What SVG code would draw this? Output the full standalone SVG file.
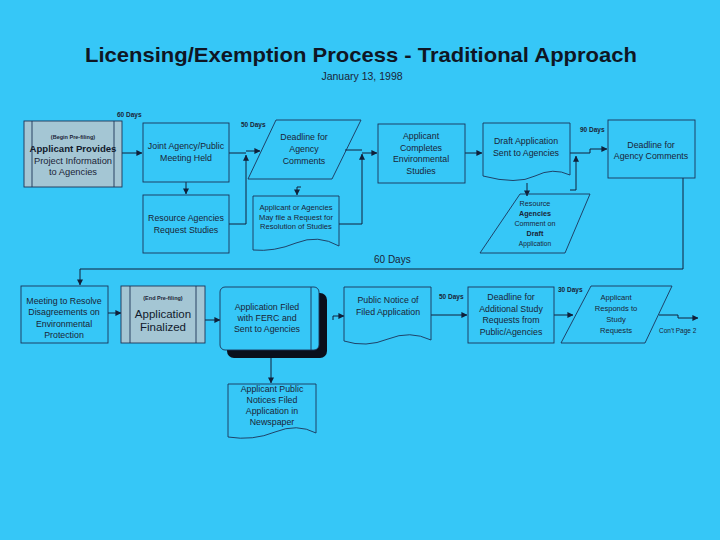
<svg xmlns="http://www.w3.org/2000/svg" width="720" height="540" viewBox="0 0 720 540">
<defs>
<marker id="ah" viewBox="0 0 8 8" refX="7.5" refY="4" markerWidth="6" markerHeight="6" orient="auto" markerUnits="userSpaceOnUse">
<path d="M0,0 L8,4 L0,8 Z" fill="#10203a"/>
</marker>
<style>
.bx{fill:none;stroke:#1c3358;stroke-width:0.9}
.pp{fill:#a4c6d4;stroke:#1c3358;stroke-width:0.9}
.ln{fill:none;stroke:#10203a;stroke-width:1}
.t{font-family:"Liberation Sans",Arial,sans-serif;font-size:8.8px;fill:#1a2436;text-anchor:middle}
.s{font-family:"Liberation Sans",Arial,sans-serif;font-size:7.6px;fill:#1a2436;text-anchor:middle}
.lb{font-family:"Liberation Sans",Arial,sans-serif;font-size:6.5px;font-weight:bold;fill:#1a2436}
.b{font-family:"Liberation Sans",Arial,sans-serif;font-size:9.6px;fill:#111a2c;text-anchor:middle;font-weight:bold}
</style>
</defs>
<rect x="0" y="0" width="720" height="540" fill="#36c7f7"/>
<text x="361" y="62" font-family="Liberation Sans,Arial,sans-serif" font-size="21" font-weight="bold" fill="#0f1624" text-anchor="middle" textLength="552" lengthAdjust="spacingAndGlyphs">Licensing/Exemption Process - Traditional Approach</text>
<text x="362" y="80" font-family="Liberation Sans,Arial,sans-serif" font-size="10.5" fill="#1a2436" text-anchor="middle">January 13, 1998</text>

<g id="connectors">
<path class="ln" d="M122,153 H142" marker-end="url(#ah)"/>
<path class="ln" d="M186,182 V194" marker-end="url(#ah)"/>
<path class="ln" d="M229,153 H246 M229,224 H246 V155" marker-end="url(#ah)"/>
<path class="ln" d="M246,151 H260" marker-end="url(#ah)"/>
<path class="ln" d="M301,187 H297 V195" marker-end="url(#ah)"/>
<path class="ln" d="M339,224 H362 V154" marker-end="url(#ah)"/>
<path class="ln" d="M345,150 H362 M362,153 H377" marker-end="url(#ah)"/>
<path class="ln" d="M465,153 H482" marker-end="url(#ah)"/>
<path class="ln" d="M527,183 V196" marker-end="url(#ah)"/>
<path class="ln" d="M570,190 H576 V156" marker-end="url(#ah)"/>
<path class="ln" d="M570,153 H590 V149 H607" marker-end="url(#ah)"/>
<path class="ln" d="M683,178 V269 H80 V285" marker-end="url(#ah)"/>
<path class="ln" d="M108,313 H121" marker-end="url(#ah)"/>
<path class="ln" d="M205,320 H220" marker-end="url(#ah)"/>
<path class="ln" d="M271,358 V383" marker-end="url(#ah)"/>
<path class="ln" d="M333,320 V316 H344" marker-end="url(#ah)"/>
<path class="ln" d="M431,315 H467" marker-end="url(#ah)"/>
<path class="ln" d="M554,315 H573" marker-end="url(#ah)"/>
<path class="ln" d="M659,315 H678 V318 H698" marker-end="url(#ah)"/>
<text class="lb" x="117" y="117">60 Days</text>
<text class="lb" x="241" y="127">50 Days</text>
<text class="lb" x="580" y="132">90 Days</text>
<text x="374" y="263" font-family="Liberation Sans,Arial,sans-serif" font-size="10" fill="#1a2436">60 Days</text>
<text class="lb" x="439" y="299">50 Days</text>
<text class="lb" x="558" y="292">30 Days</text>
<text class="lb" x="659" y="333" style="font-weight:normal">Con't Page 2</text>
</g>

<g id="n-applicant-provides">
<rect class="pp" x="24" y="121" width="98" height="66"/>
<line class="bx" x1="32" y1="121" x2="32" y2="187"/>
<line class="bx" x1="114" y1="121" x2="114" y2="187"/>
<text x="73" y="139" font-family="Liberation Sans,Arial,sans-serif" font-size="5.5" font-weight="bold" fill="#1a2436" text-anchor="middle">(Begin Pre-filing)</text>
<text class="b" x="73" y="152">Applicant Provides</text>
<text class="t" x="73" y="163.5" style="font-size:9.3px">Project Information</text>
<text class="t" x="73" y="175" style="font-size:9.3px">to Agencies</text>
</g>

<g id="n-joint-meeting">
<rect class="bx" x="143" y="123" width="86" height="59"/>
<text class="t" x="186" y="149">Joint Agency/Public</text>
<text class="t" x="186" y="161">Meeting Held</text>
</g>

<g id="n-request-studies">
<rect class="bx" x="143" y="195" width="86" height="58"/>
<text class="t" x="186" y="221">Resource Agencies</text>
<text class="t" x="186" y="233">Request Studies</text>
</g>

<g id="n-deadline-1">
<polygon class="bx" points="276,120 361,120 332,179 248,179"/>
<text class="t" x="304" y="140">Deadline for</text>
<text class="t" x="304" y="152">Agency</text>
<text class="t" x="304" y="164">Comments</text>
</g>

<g id="n-resolution">
<path class="bx" d="M253,196 H339 V246 Q318,234 296,243 T253,250 Z"/>
<text class="s" x="296" y="210">Applicant or Agencies</text>
<text class="s" x="296" y="219.5">May file a Request for</text>
<text class="s" x="296" y="229">Resolution of Studies</text>
</g>

<g id="n-env-studies">
<rect class="bx" x="378" y="124" width="87" height="59"/>
<text class="t" x="421" y="139">Applicant</text>
<text class="t" x="421" y="150.5">Completes</text>
<text class="t" x="421" y="162">Environmental</text>
<text class="t" x="421" y="173.5">Studies</text>
</g>

<g id="n-draft-app">
<path class="bx" d="M483,123 H570 V175 Q553,167 535,176 T483,176 Z"/>
<text class="t" x="526" y="144">Draft Application</text>
<text class="t" x="526" y="155.5">Sent to Agencies</text>
</g>

<g id="n-comment-draft">
<polygon class="bx" points="520,194 590,194 565,253 480,253"/>
<text class="s" x="535" y="206" style="font-size:7.2px">Resource</text>
<text class="s" x="535" y="216" style="font-size:7.2px;font-weight:bold">Agencies</text>
<text class="s" x="535" y="226" style="font-size:7.2px">Comment on</text>
<text class="s" x="535" y="236" style="font-size:7.2px;font-weight:bold">Draft</text>
<text class="s" x="535" y="246" style="font-size:6.6px">Application</text>
</g>

<g id="n-deadline-2">
<rect class="bx" x="608" y="120" width="87" height="58"/>
<text class="t" x="651" y="148">Deadline for</text>
<text class="t" x="651" y="159">Agency Comments</text>
</g>

<g id="n-resolve-meeting">
<rect class="bx" x="21" y="286" width="87" height="57"/>
<text class="t" x="64" y="304">Meeting to Resolve</text>
<text class="t" x="64" y="315">Disagreements on</text>
<text class="t" x="64" y="326.5">Environmental</text>
<text class="t" x="64" y="338">Protection</text>
</g>

<g id="n-app-finalized">
<rect class="pp" x="121" y="286" width="84" height="57"/>
<line class="bx" x1="130" y1="286" x2="130" y2="343"/>
<line class="bx" x1="196" y1="286" x2="196" y2="343"/>
<text x="163" y="300" font-family="Liberation Sans,Arial,sans-serif" font-size="5.5" font-weight="bold" fill="#1a2436" text-anchor="middle">(End Pre-filing)</text>
<text x="163" y="318" font-family="Liberation Sans,Arial,sans-serif" font-size="11.5" fill="#111a2c" text-anchor="middle">Application</text>
<text x="163" y="331" font-family="Liberation Sans,Arial,sans-serif" font-size="11.5" fill="#111a2c" text-anchor="middle">Finalized</text>
</g>

<g id="n-app-filed">
<rect x="227" y="293" width="100" height="65" rx="7" fill="#0a0f1c"/>
<rect x="220" y="287" width="99" height="63" rx="5" fill="#36c7f7" stroke="#1c3358" stroke-width="0.9"/>
<line class="bx" x1="311" y1="287" x2="311" y2="350"/>
<text class="t" x="267" y="310">Application Filed</text>
<text class="t" x="267" y="321">with FERC and</text>
<text class="t" x="267" y="332">Sent to Agencies</text>
</g>

<g id="n-newspaper">
<path class="bx" d="M228,384 H316 V433 Q297,423 275,432 T228,437 Z"/>
<text class="t" x="272" y="392">Applicant Public</text>
<text class="t" x="272" y="403">Notices Filed</text>
<text class="t" x="272" y="414">Application in</text>
<text class="t" x="272" y="425">Newspaper</text>
</g>

<g id="n-public-notice">
<path class="bx" d="M344,287 H431 V340 Q410,330 388,339 T344,341 Z"/>
<text class="t" x="388" y="303">Public Notice of</text>
<text class="t" x="388" y="314.5">Filed  Application</text>
</g>

<g id="n-deadline-additional">
<rect class="bx" x="468" y="287" width="86" height="56"/>
<text class="t" x="511" y="300">Deadline for</text>
<text class="t" x="511" y="311.5">Additional Study</text>
<text class="t" x="511" y="323">Requests from</text>
<text class="t" x="511" y="334.5">Public/Agencies</text>
</g>

<g id="n-responds">
<polygon class="bx" points="591,286 672,286 645,343 561,343"/>
<text class="s" x="616" y="300">Applicant</text>
<text class="s" x="616" y="311">Responds to</text>
<text class="s" x="616" y="322">Study</text>
<text class="s" x="616" y="333">Requests</text>
</g>
</svg>
